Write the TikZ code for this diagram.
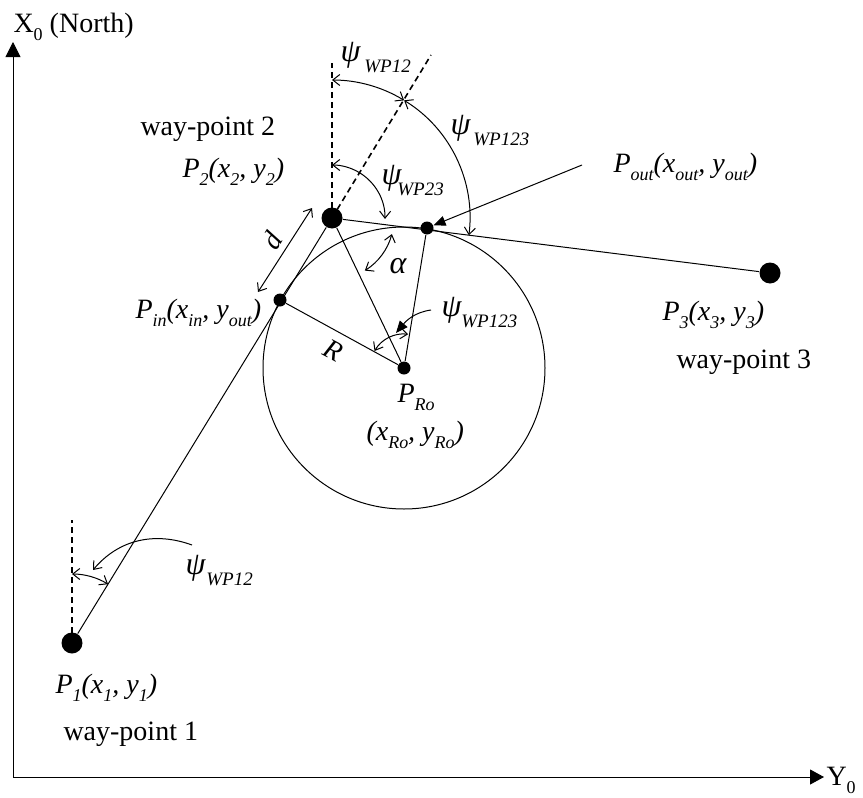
\documentclass[tikz,border=0pt]{standalone}
\usepackage{fontspec}
\setmainfont{Liberation Serif}
\usetikzlibrary{arrows.meta,calc}
\newcommand{\sbs}[1]{\raisebox{-8pt}{\fontsize{18}{18}\selectfont #1}}
\newcommand{\psub}[1]{\raisebox{-11pt}{\fontsize{19}{19}\selectfont\itshape #1}}
\begin{document}
\begin{tikzpicture}[x=1pt,y=1pt,line width=1pt,
  >={Straight Barb[length=7pt,width=11pt]},
  bigdot/.style={circle,fill=black,inner sep=0pt,minimum size=21pt},
  smalldot/.style={circle,fill=black,inner sep=0pt,minimum size=13pt},
  lab/.style={inner sep=0pt,anchor=base west,font={\fontsize{28}{30}\selectfont}},
  ilab/.style={lab,font={\fontsize{28}{30}\selectfont\itshape}},
  psil/.style={inner sep=0pt,anchor=base west,font={\fontsize{32}{32}\selectfont\itshape}},
  dsh/.style={dash pattern=on 6pt off 4pt,line width=1.6pt},
  tri/.style={-{Triangle[length=12pt,width=10pt]}}]
\useasboundingbox (0,0) rectangle (863,-798);
% axes
\coordinate (O) at (13,-777);
\coordinate (Xtip) at (13,-42);
\coordinate (Ytip) at (824,-777);
\draw[-{Triangle[length=15pt,width=15pt]}] (O) -- (Xtip);
\draw[-{Triangle[length=14pt,width=15pt]}] (O) -- (Ytip);
\node[lab] (xlab) at (13,-32) {X\sbs{0} (North)};
\node[lab] (ylab) at (826,-785) {Y\sbs{0}};
% points
\node[bigdot] (P1) at (72,-643) {};
\node[bigdot] (P2) at (332,-218) {};
\node[bigdot] (P3) at (770,-273) {};
\node[smalldot] (Pin) at (280,-300) {};
\node[smalldot] (Pout) at (427,-228) {};
\node[smalldot] (PRo) at (404,-368) {};
% circle
\draw (PRo.center) circle[radius=141];
% main lines
\draw (P1) -- (P2);
\draw (P2) -- (P3);
\draw (P2) -- (PRo);
\draw (Pin) -- (PRo);
\draw (Pout) -- (PRo);
% dashed references
\coordinate (v2) at (332,-63);
\coordinate (e2) at (431,-55);
\coordinate (v1) at (72,-520);
\draw[dsh] (P2.center) -- (v2);
\draw[dsh] (P2.center) -- (e2);
\draw[dsh] (P1.center) -- (v1);
% angle arcs at P2
\draw[<->] ($(P2.center)+(58.5:138)$) arc[start angle=58.5,end angle=90,radius=138];
\draw[<->] ($(P2.center)+(-7.2:138)$) arc[start angle=-7.2,end angle=58.5,radius=138];
\draw[<->] ($(P2.center)+(-1:53)$) arc[start angle=-1,end angle=90,radius=53];
\draw[<->] ($(P2.center)+(-58:62)$) arc[start angle=-58,end angle=-15,radius=62];
% angle arc at PRo
\draw[<->] ($(PRo.center)+(83:34)$) arc[start angle=83,end angle=150,radius=34];
% angle arc at P1
\draw[<->] ($(P1.center)+(58.5:69)$) arc[start angle=58.5,end angle=90,radius=69];
% d arrow
\coordinate (d1) at (258,-292);
\coordinate (d2) at (312,-208);
\draw[<->] (d1) -- (d2);
% pointers
\coordinate (pp1) at (192,-545);
\coordinate (pp1e) at (93,-570);
\draw[->] (pp1) to[out=160,in=50] (pp1e);
\coordinate (pp2) at (431,-310);
\coordinate (pp2e) at (396,-333);
\draw[tri] (pp2) to[out=188,in=50] (pp2e);
\coordinate (pp3) at (582,-165);
\draw[tri] (pp3) -- (Pout);
% labels
\node[lab] (wp2) at (140,-135) {way-point 2};
\node[ilab] (lP2) at (182,-177) {P\sbs{2}(x\sbs{2}, y\sbs{2})};
\node[ilab] (lPin) at (135,-318) {P\sbs{in}(x\sbs{in}, y\sbs{out})};
\node[ilab] (lPout) at (613,-172) {P\sbs{out}(x\sbs{out}, y\sbs{out})};
\node[ilab] (lP3) at (662,-320) {P\sbs{3}(x\sbs{3}, y\sbs{3})};
\node[lab] (wp3) at (676,-368) {way-point 3};
\node[ilab] (lPRo) at (397,-402) {P\sbs{Ro}};
\node[ilab] (lxyRo) at (366,-440) {(x\sbs{Ro}, y\sbs{Ro})};
\node[ilab] (lP1) at (55,-693) {P\sbs{1}(x\sbs{1}, y\sbs{1})};
\node[lab] (wp1) at (63,-740) {way-point 1};
% psi labels
\node[psil] (psi1) at (340,-61) {ψ\kern4pt\psub{WP12}};
\node[psil] (psi2) at (450,-134) {ψ\kern3pt\psub{WP123}};
\node[psil] (psi3) at (381,-184) {ψ\kern-4pt\psub{WP23}};
\node[psil] (psi4) at (441,-316) {ψ\kern0pt\psub{WP123}};
\node[psil] (psi5) at (185,-574) {ψ\kern1pt\psub{WP12}};
% other labels
\node[inner sep=0pt,font={\fontsize{32}{32}\selectfont\itshape}] (alpha) at (398,-266) {α};
\node[inner sep=0pt,rotate=-28,font={\fontsize{28}{30}\selectfont\itshape}] (Rl) at (333,-350) {R};
\node[inner sep=0pt,rotate=58,font={\fontsize{28}{30}\selectfont\itshape}] (dl) at (272,-240) {d};
\end{tikzpicture}
\end{document}
